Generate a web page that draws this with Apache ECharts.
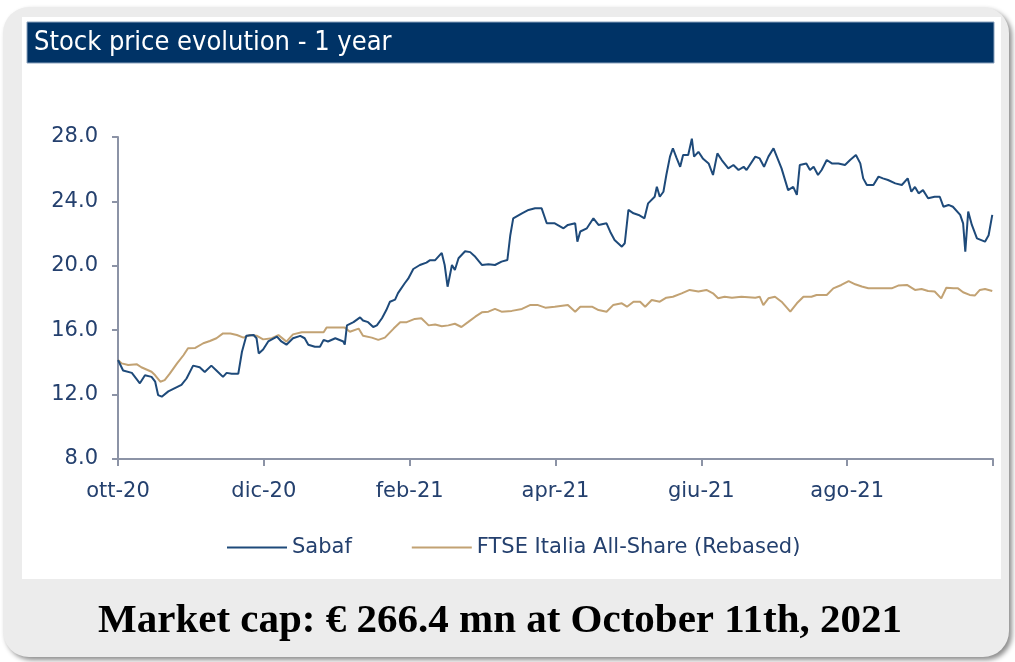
<!DOCTYPE html>
<html>
<head>
<meta charset="utf-8">
<script src="https://cdn.jsdelivr.net/npm/echarts@6/dist/echarts.min.js"></script>
<style>
  html, body { margin: 0; padding: 0; background: #fff; }
  #main { width: 1015px; height: 662px; }
</style>
</head>
<body>
<div id="main"></div>
<script>
// x = months since ott-20, y = price
var monthLabels = ['ott-20', 'dic-20', 'feb-21', 'apr-21', 'giu-21', 'ago-21', ''];
var seriesNames = ['Sabaf', 'FTSE Italia All-Share (Rebased)'];
var titleText = 'Stock price evolution - 1 year';
var footText = 'Market cap: € 266.4 mn at October 11th, 2021';

var sabaf = [
  [0.00, 14.15], [0.07, 13.5], [0.19, 13.35], [0.30, 12.7], [0.37, 13.2], [0.46, 13.1],
  [0.51, 12.8], [0.55, 11.97], [0.60, 11.87], [0.69, 12.2], [0.78, 12.4], [0.87, 12.6],
  [0.94, 13.0], [1.03, 13.8], [1.12, 13.7], [1.19, 13.4], [1.28, 13.8], [1.35, 13.5],
  [1.44, 13.1], [1.49, 13.35], [1.56, 13.3], [1.65, 13.3], [1.70, 14.66], [1.76, 15.66],
  [1.86, 15.7], [1.90, 15.5], [1.93, 14.56], [1.99, 14.8], [2.06, 15.3], [2.18, 15.6],
  [2.24, 15.3], [2.31, 15.1], [2.40, 15.5], [2.50, 15.65], [2.56, 15.5], [2.61, 15.1],
  [2.70, 14.97], [2.77, 14.97], [2.82, 15.4], [2.88, 15.3], [2.98, 15.5], [3.09, 15.3],
  [3.11, 15.1], [3.14, 16.3], [3.23, 16.5], [3.32, 16.8], [3.36, 16.6], [3.43, 16.5],
  [3.50, 16.2], [3.55, 16.3], [3.62, 16.74], [3.68, 17.25], [3.73, 17.77], [3.80, 17.9],
  [3.84, 18.3], [3.93, 18.9], [3.98, 19.2], [4.05, 19.8], [4.14, 20.05], [4.23, 20.2],
  [4.28, 20.35], [4.35, 20.35], [4.44, 20.8], [4.48, 20.05], [4.52, 18.7], [4.58, 20.05],
  [4.62, 19.74], [4.67, 20.47], [4.76, 20.9], [4.83, 20.85], [4.90, 20.56], [4.99, 20.05],
  [5.08, 20.1], [5.17, 20.05], [5.26, 20.26], [5.34, 20.36], [5.38, 21.9], [5.42, 22.95],
  [5.54, 23.26], [5.63, 23.47], [5.72, 23.57], [5.81, 23.57], [5.88, 22.64], [5.99, 22.64],
  [6.11, 22.33], [6.17, 22.54], [6.27, 22.64], [6.30, 21.5], [6.34, 22.13], [6.43, 22.33],
  [6.52, 22.95], [6.59, 22.54], [6.70, 22.64], [6.75, 22.12], [6.81, 21.6], [6.91, 21.19],
  [6.95, 21.4], [7.00, 23.47], [7.07, 23.26], [7.14, 23.16], [7.22, 22.95], [7.27, 23.88],
  [7.36, 24.29], [7.39, 24.91], [7.43, 24.29], [7.48, 24.6], [7.52, 25.64], [7.57, 26.78],
  [7.61, 27.3], [7.66, 26.7], [7.71, 26.15], [7.75, 26.88], [7.82, 26.88], [7.87, 27.9],
  [7.90, 26.78], [7.96, 27.08], [8.02, 26.67], [8.10, 26.36], [8.16, 25.64], [8.22, 26.98],
  [8.28, 26.57], [8.37, 26.05], [8.44, 26.26], [8.51, 25.95], [8.58, 26.15], [8.62, 25.95],
  [8.74, 26.78], [8.80, 26.67], [8.86, 26.15], [8.92, 26.78], [8.99, 27.3], [9.10, 26.05],
  [9.19, 24.7], [9.26, 24.9], [9.31, 24.4], [9.35, 26.26], [9.44, 26.36], [9.49, 25.95],
  [9.54, 26.15], [9.60, 25.64], [9.65, 25.95], [9.72, 26.57], [9.79, 26.36], [9.88, 26.36],
  [9.97, 26.26], [10.04, 26.57], [10.12, 26.88], [10.18, 26.36], [10.22, 25.43], [10.27, 25.02],
  [10.36, 25.02], [10.43, 25.54], [10.49, 25.43], [10.56, 25.33], [10.66, 25.12], [10.75, 25.02],
  [10.83, 25.43], [10.88, 24.6], [10.93, 24.9], [10.98, 24.5], [11.04, 24.7], [11.11, 24.19],
  [11.20, 24.29], [11.27, 24.29], [11.32, 23.67], [11.39, 23.78], [11.45, 23.67], [11.55, 23.16],
  [11.59, 22.64], [11.62, 20.88], [11.66, 23.37], [11.71, 22.54], [11.78, 21.7], [11.89, 21.5],
  [11.94, 21.9], [11.99, 23.16]
];

var ftse = [
  [0.00, 14.15], [0.05, 13.94], [0.14, 13.84], [0.26, 13.88], [0.32, 13.7], [0.46, 13.42],
  [0.51, 13.2], [0.58, 12.8], [0.64, 12.9], [0.71, 13.3], [0.81, 13.94], [0.90, 14.46],
  [0.96, 14.88], [1.06, 14.9], [1.17, 15.19], [1.26, 15.33], [1.35, 15.5], [1.44, 15.8],
  [1.54, 15.8], [1.63, 15.7], [1.72, 15.54], [1.81, 15.7], [1.90, 15.66], [1.99, 15.43],
  [2.11, 15.5], [2.20, 15.7], [2.31, 15.29], [2.40, 15.74], [2.52, 15.87], [2.66, 15.87],
  [2.82, 15.87], [2.86, 16.16], [2.98, 16.16], [3.11, 16.16], [3.18, 15.9], [3.30, 16.1],
  [3.36, 15.66], [3.48, 15.54], [3.57, 15.4], [3.66, 15.54], [3.78, 16.1], [3.87, 16.49],
  [3.96, 16.5], [4.07, 16.7], [4.16, 16.74], [4.26, 16.3], [4.35, 16.35], [4.44, 16.25],
  [4.53, 16.3], [4.62, 16.4], [4.71, 16.2], [4.80, 16.5], [4.90, 16.84], [4.99, 17.11],
  [5.08, 17.15], [5.17, 17.32], [5.26, 17.15], [5.40, 17.2], [5.54, 17.32], [5.65, 17.56],
  [5.76, 17.56], [5.86, 17.4], [5.99, 17.46], [6.17, 17.56], [6.27, 17.15], [6.34, 17.46],
  [6.50, 17.46], [6.59, 17.25], [6.70, 17.15], [6.79, 17.56], [6.91, 17.67], [6.98, 17.46],
  [7.07, 17.77], [7.16, 17.77], [7.23, 17.46], [7.32, 17.88], [7.43, 17.77], [7.52, 18.02],
  [7.61, 18.08], [7.73, 18.29], [7.84, 18.5], [7.96, 18.4], [8.07, 18.5], [8.16, 18.29],
  [8.23, 17.98], [8.32, 18.08], [8.42, 18.02], [8.55, 18.08], [8.74, 18.02], [8.80, 18.08],
  [8.85, 17.56], [8.92, 17.98], [9.01, 18.08], [9.10, 17.77], [9.22, 17.15], [9.31, 17.67],
  [9.40, 18.08], [9.51, 18.08], [9.58, 18.19], [9.72, 18.19], [9.81, 18.6], [9.92, 18.81],
  [10.02, 19.05], [10.11, 18.85], [10.20, 18.71], [10.29, 18.6], [10.43, 18.6], [10.61, 18.6],
  [10.70, 18.77], [10.82, 18.81], [10.93, 18.5], [11.02, 18.56], [11.11, 18.43], [11.20, 18.4],
  [11.29, 17.98], [11.36, 18.64], [11.46, 18.6], [11.52, 18.6], [11.59, 18.36], [11.68, 18.19],
  [11.75, 18.15], [11.82, 18.5], [11.89, 18.56], [11.99, 18.43]
];

var navy = '#24406e';
var axisGrey = '#8c93a6';

var myChart = echarts.init(document.getElementById('main'));
myChart.setOption({
  animation: false,
  graphic: [
    {
      type: 'rect', z: -30,
      shape: { x: 3, y: 7, width: 1006, height: 650, r: 26 },
      style: { fill: '#ececec', shadowBlur: 5, shadowOffsetX: 3, shadowOffsetY: 3, shadowColor: 'rgba(0,0,0,0.45)' }
    },
    { type: 'rect', z: -20, shape: { x: 22, y: 17, width: 979, height: 562 }, style: { fill: '#ffffff' } },
    { type: 'rect', z: -10, shape: { x: 27, y: 22, width: 967, height: 41 }, style: { fill: '#003366', stroke: '#8aa2bd', lineWidth: 1 } },
    {
      type: 'text', z: 100, x: 34, y: 43,
      style: { text: titleText, fill: '#ffffff', font: '27px "Liberation Sans Narrow", "DejaVu Sans Condensed", sans-serif', verticalAlign: 'middle' }
    },
    {
      type: 'text', z: 100, x: 500, y: 621,
      style: { text: footText, fill: '#000000', font: 'bold 41px "Liberation Serif", serif', align: 'center', verticalAlign: 'middle' }
    }
  ],
  legend: {
    data: seriesNames,
    left: 227,
    top: 537,
    padding: 0,
    icon: 'rect',
    itemWidth: 60,
    itemHeight: 2,
    itemGap: 60,
    textStyle: { color: navy, fontSize: 21, fontFamily: 'DejaVu Sans' }
  },
  grid: { left: 118, right: 22, top: 137, bottom: 203 },
  xAxis: {
    type: 'value',
    min: 0,
    max: 12,
    interval: 2,
    axisLine: { lineStyle: { color: axisGrey, width: 2 } },
    axisTick: { show: true, length: 7, lineStyle: { color: axisGrey, width: 2 } },
    splitLine: { show: false },
    axisLabel: {
      margin: 22,
      color: navy,
      fontSize: 21,
      fontFamily: 'DejaVu Sans',
      formatter: function (v) { return monthLabels[Math.round(v / 2)] || ''; }
    }
  },
  yAxis: {
    type: 'value',
    min: 8,
    max: 28,
    interval: 4,
    axisLine: { show: true, lineStyle: { color: axisGrey, width: 2 } },
    axisTick: { show: true, length: 6, lineStyle: { color: axisGrey, width: 2 } },
    splitLine: { show: false },
    axisLabel: {
      margin: 20,
      color: navy,
      fontSize: 21,
      fontFamily: 'DejaVu Sans',
      formatter: function (v) { return v.toFixed(1); }
    }
  },
  series: [
    {
      name: seriesNames[0],
      type: 'line',
      data: sabaf,
      symbol: 'none',
      z: 3,
      lineStyle: { color: '#1e4a7a', width: 2 },
      itemStyle: { color: '#1e4a7a' }
    },
    {
      name: seriesNames[1],
      type: 'line',
      data: ftse,
      symbol: 'none',
      z: 2,
      lineStyle: { color: '#c2a273', width: 2 },
      itemStyle: { color: '#c2a273' }
    }
  ]
});
</script>
</body>
</html>
